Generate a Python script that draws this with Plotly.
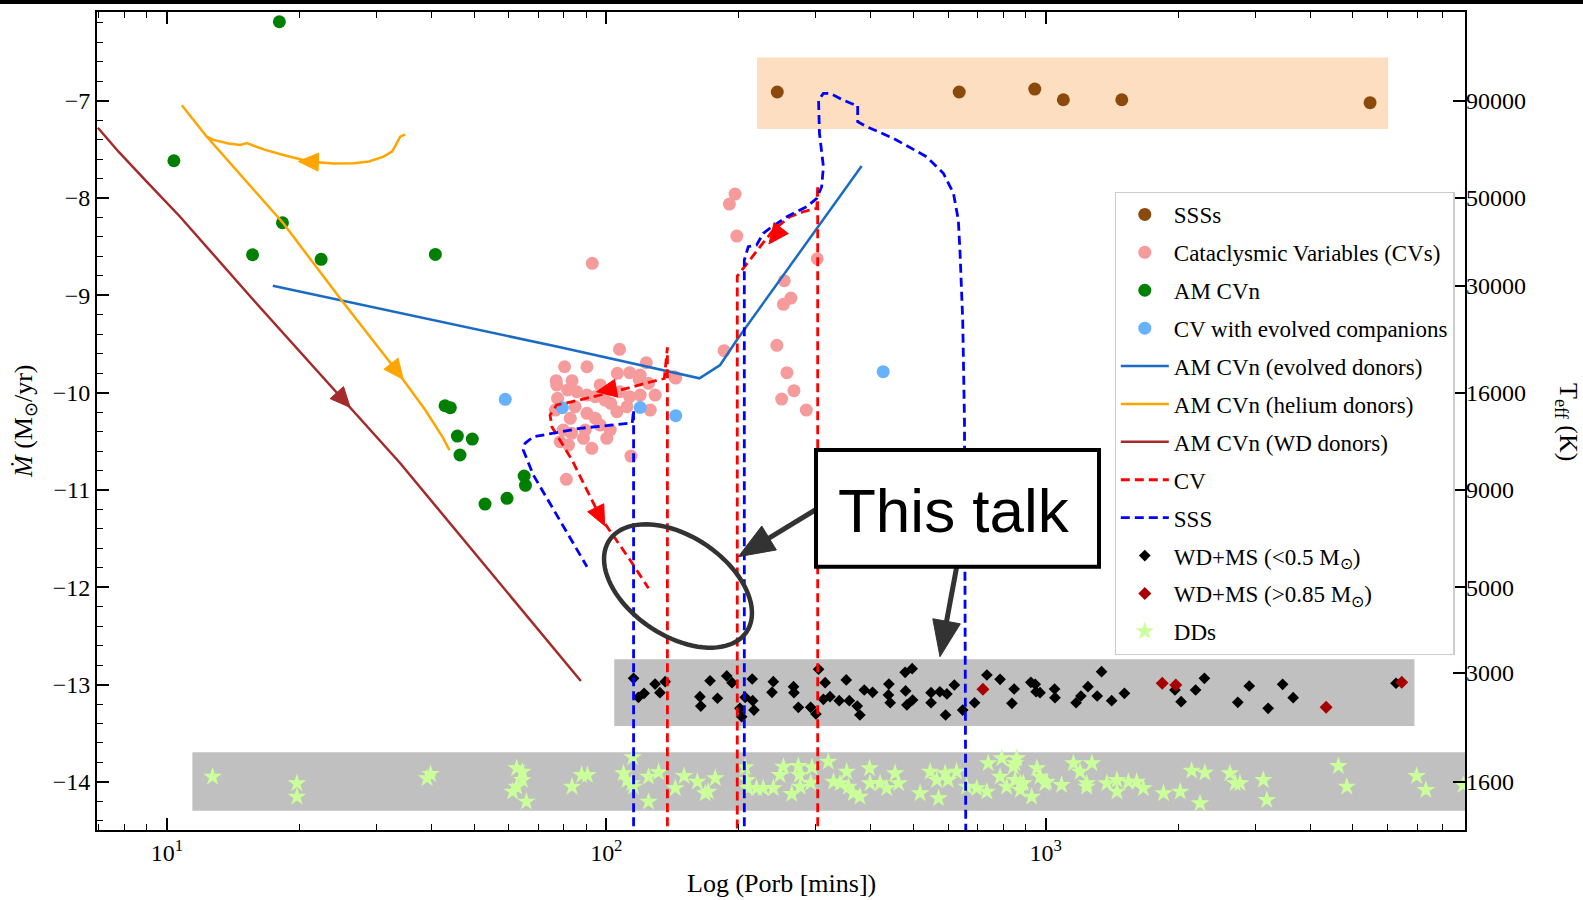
import numpy as np
import plotly.graph_objects as go

# ---------------- axis frame ----------------
X_LOG_RANGE = [0.841, 3.954]          # log10(P / min)
Y_RANGE = [-14.495, -6.088]           # log Mdot

# ---------------- data (log10 Porb [min], log Mdot [Msun/yr]) ----------------
sss_logp = [2.389, 2.803, 2.975, 3.040, 3.173, 3.738]
sss_mdot = [-6.91, -6.91, -6.88, -6.99, -6.99, -7.02]

cv_logp = [1.968, 2.293, 2.280, 2.297, 2.480, 2.405, 2.420, 2.403, 2.388, 2.268,
           2.411, 2.427, 2.399, 2.455, 2.030, 2.091, 2.155, 1.905, 1.956, 1.886,
           1.922, 2.025, 2.053, 2.075, 2.096, 1.889, 1.912, 1.933, 1.956, 1.975,
           2.031, 2.053, 2.100, 1.929, 1.956, 1.975, 2.010, 2.024, 2.047, 1.918,
           1.902, 1.921, 1.895, 1.914, 1.948, 1.967, 2.001, 2.056, 1.909, 1.887,
           1.986, 1.997, 2.077, 2.077, 1.986, 2.009, 1.884, 1.952, 2.111, 2.158]
cv_mdot = [-8.671, -7.959, -8.062, -8.391, -8.624, -8.850, -9.028, -9.092, -9.514, -9.569,
           -9.795, -9.980, -10.066, -10.179, -9.555, -9.693, -9.837, -9.734, -9.734, -9.877,
           -9.877, -9.802, -9.795, -9.870, -9.904, -10.058, -9.973, -9.991, -10.025, -10.042,
           -9.991, -10.042, -10.179, -10.145, -10.213, -10.264, -10.110, -10.196, -10.145, -10.264,
           -10.384, -10.418, -10.505, -10.538, -10.470, -10.572, -10.470, -10.652, -10.891, -9.921,
           -9.921, -10.076, -9.819, -10.025, -10.333, -10.384, -10.179, -10.384, -10.025, -9.850]

amcvn_logp = [1.256, 1.016, 1.263, 1.195, 1.351, 1.611, 1.633, 1.645, 1.661, 1.695,
              1.667, 1.813, 1.816, 1.724, 1.774]
amcvn_mdot = [-6.188, -7.617, -8.254, -8.583, -8.630, -8.580, -10.135, -10.155, -10.446, -10.477,
              -10.641, -10.857, -10.953, -11.145, -11.086]

evolved_logp = [1.770, 1.900, 2.077, 2.158, 2.630]
evolved_mdot = [-10.069, -10.155, -10.153, -10.237, -9.785]

wdms_lo_logp = [2.062, 2.073, 2.086, 2.111, 2.122, 2.134, 2.213, 2.215, 2.236, 2.253,
                2.274, 2.286, 2.304, 2.308, 2.316, 2.332, 2.333, 2.336, 2.380, 2.377,
                2.426, 2.427, 2.437, 2.465, 2.477, 2.483, 2.498, 2.494, 2.509, 2.530,
                2.546, 2.553, 2.571, 2.577, 2.587, 2.606, 2.643, 2.642, 2.646, 2.680,
                2.696, 2.681, 2.684, 2.697, 2.739, 2.739, 2.759, 2.775, 2.772, 2.792,
                2.811, 2.838, 2.866, 2.896, 2.928, 2.923, 2.966, 2.976, 2.987, 2.978,
                3.020, 3.021, 3.069, 3.080, 3.096, 3.117, 3.127, 3.150, 3.179, 3.294,
                3.308, 3.341, 3.361, 3.437, 3.463, 3.506, 3.539, 3.563, 3.797]
wdms_lo_mdot = [-12.936, -13.131, -13.090, -12.995, -13.084, -12.971, -13.125, -13.221, -12.961, -13.141,
                -12.912, -12.981, -13.244, -13.331, -13.131, -12.943, -13.166, -13.262, -12.971, -13.080,
                -13.022, -13.084, -13.234, -13.234, -13.303, -12.843, -12.981, -13.152, -13.125, -13.166,
                -12.953, -13.166, -13.221, -13.313, -13.056, -13.080, -12.995, -13.107, -13.187, -12.874,
                -12.837, -13.066, -13.210, -13.159, -13.084, -13.187, -13.074, -13.097, -13.313, -13.005,
                -13.262, -13.187, -12.902, -12.946, -13.046, -13.193, -12.977, -12.998, -13.084, -13.074,
                -13.046, -13.135, -13.187, -13.118, -13.022, -13.118, -12.868, -13.166, -13.090, -13.056,
                -13.176, -13.056, -12.936, -13.183, -13.015, -13.244, -12.998, -13.135, -12.987]

wdms_hi_logp = [2.857, 3.265, 3.296, 3.638, 3.810]
wdms_hi_mdot = [-13.049, -12.987, -13.005, -13.234, -12.977]

dd_logp = [1.104, 1.296, 1.296, 1.592, 1.600, 1.796, 1.809, 1.809, 1.796, 1.787,
           1.818, 1.922, 1.944, 1.957, 2.060, 2.039, 2.047, 2.058, 2.062, 2.096,
           2.119, 2.096, 2.157, 2.177, 2.207, 2.225, 2.232, 2.248, 2.316, 2.320,
           2.323, 2.342, 2.357, 2.380, 2.395, 2.403, 2.422, 2.437, 2.439, 2.441,
           2.468, 2.465, 2.505, 2.517, 2.532, 2.547, 2.551, 2.562, 2.577, 2.599,
           2.600, 2.623, 2.638, 2.657, 2.665, 2.714, 2.737, 2.752, 2.756, 2.771,
           2.778, 2.797, 2.820, 2.843, 2.866, 2.869, 2.900, 2.896, 2.911, 2.930,
           2.934, 2.942, 2.968, 2.980, 2.987, 2.998, 3.036, 3.063, 3.078, 3.093,
           3.105, 2.926, 2.930, 2.949, 2.942, 3.002,
           3.093, 3.139, 3.162, 3.162, 3.188, 3.207, 3.222, 3.268, 3.306, 3.332,
           3.362, 3.351, 3.419, 3.431, 3.442, 3.495, 3.503, 3.666, 3.685, 3.844, 3.865, 3.950]
dd_mdot = [-13.948, -14.015, -14.153, -13.964, -13.920, -13.861, -13.896, -13.982, -14.050, -14.101,
           -14.204, -14.050, -13.930, -13.930, -13.748, -13.913, -13.982, -14.015, -14.050, -13.948,
           -13.902, -14.204, -14.067, -13.940, -13.999, -14.118, -14.101, -13.964, -13.851, -13.982,
           -14.067, -14.067, -14.067, -14.067, -13.930, -13.845, -14.125, -13.837, -13.930, -14.050,
           -13.851, -14.009, -13.793, -13.999, -14.015, -13.896, -14.050, -14.118, -14.153, -13.861,
           -14.015, -14.015, -14.067, -13.913, -14.015, -14.118, -13.896, -13.982, -14.169, -13.913,
           -13.982, -13.896, -14.050, -14.067, -14.101, -13.810, -13.758, -13.948, -14.050, -13.810,
           -13.758, -14.015, -14.153, -13.861, -13.948, -14.015, -14.033, -13.810, -13.896, -14.015,
           -13.810, -13.845, -13.982, -14.015, -14.084, -13.999,
           -14.050, -14.015, -13.982, -14.101, -13.999, -13.999, -14.067, -14.118, -14.101, -13.886,
           -13.906, -14.221, -13.913, -14.015, -14.015, -13.982, -14.187, -13.837, -14.050, -13.940, -14.084, -14.033]

# evolutionary tracks
evol_track_logp = [1.241, 1.608, 1.713, 1.895, 2.212, 2.259, 2.297, 2.479, 2.581]
evol_track_mdot = [-8.901, -9.254, -9.356, -9.534, -9.853, -9.716, -9.459, -8.311, -7.671]

he_track_logp = [1.542, 1.531, 1.513, 1.493, 1.460, 1.425, 1.380, 1.326, 1.265, 1.220,
                 1.182, 1.167, 1.140, 1.106, 1.091, 1.034, 1.091, 1.264, 1.394, 1.524,
                 1.588, 1.626, 1.643]
he_track_mdot = [-7.345, -7.370, -7.520, -7.575, -7.625, -7.643, -7.645, -7.626, -7.557, -7.500,
                 -7.436, -7.454, -7.440, -7.402, -7.370, -7.047, -7.370, -8.254, -9.031, -9.783,
                 -10.179, -10.446, -10.590]

wd_track_logp = [0.843, 0.890, 0.954, 1.030, 1.197, 1.531, 1.942]
wd_track_mdot = [-7.277, -7.524, -7.832, -8.192, -9.048, -10.726, -12.964]

cv_trackA_logp = [2.481, 2.481, 2.479, 2.448, 2.418, 2.380, 2.350, 2.308, 2.298, 2.298]
cv_trackA_mdot = [-14.6, -7.866, -8.106, -8.141, -8.192, -8.329, -8.500, -8.740, -8.802, -14.6]
cv_trackB_logp = [2.139, 2.139, 2.132, 2.015, 1.918, 1.887, 1.872, 1.876, 1.922, 1.986, 2.054, 2.096]
cv_trackB_mdot = [-14.6, -9.534, -9.853, -9.994, -10.097, -10.127, -10.230, -10.350, -10.693, -11.275, -11.720, -12.011]

sss_track1_logp = [2.062, 2.062, 2.059, 1.940, 1.834, 1.815, 1.811, 1.834, 1.956]
sss_track1_mdot = [-14.6, -10.179, -10.312, -10.367, -10.453, -10.521, -10.590, -10.847, -11.789]
sss_track2_logp = [2.314, 2.314, 2.323, 2.342, 2.357, 2.377, 2.411, 2.456, 2.479, 2.490,
                   2.494, 2.485, 2.483, 2.494, 2.509, 2.539, 2.566, 2.572, 2.572, 2.593,
                   2.653, 2.729, 2.767, 2.790, 2.801, 2.805, 2.811, 2.815, 2.818]
sss_track2_mdot = [-14.6, -8.637, -8.500, -8.483, -8.363, -8.295, -8.192, -8.089, -8.003, -7.884,
                   -7.678, -7.335, -6.993, -6.924, -6.924, -6.993, -7.044, -7.044, -7.216, -7.267,
                   -7.386, -7.576, -7.746, -7.952, -8.226, -8.568, -9.254, -10.282, -14.6]

# direction arrows on tracks: (colour, [previous point, arrow point])
arrows = [
    ("#A52A2A", [1.197, 1.402], [-9.048, -10.076]),
    ("#FFA500", [1.425, 1.322], [-7.643, -7.627]),
    ("#FFA500", [1.394, 1.524], [-9.031, -9.783]),
    ("#FF0000", [2.418, 2.384], [-8.192, -8.390]),
    ("#FF0000", [2.077, 2.000], [-9.911, -9.973]),
    ("#FF0000", [1.922, 1.986], [-10.693, -11.275]),
]

# shaded regions: (logP0, logP1, Mdot0, Mdot1, colour)
bands = [
    (2.343, 3.779, -6.556, -7.290, "#FDDEC0"),
    (2.018, 3.839, -12.741, -13.426, "#C0C0C0"),
    (1.058, 3.954, -13.697, -14.297, "#C0C0C0"),
]

teff_pos = [-7, -8, -8.9, -10, -11, -12, -12.88, -14]
teff_labels = ["90000", "50000", "30000", "16000", "9000", "5000", "3000", "1600"]

x_major = [10, 100, 1000]
x_major_text = ["10<sup>1</sup>", "10<sup>2</sup>", "10<sup>3</sup>"]
x_minor = [m * 10 ** e for e in range(0, 4) for m in range(2, 10)]

# ---------------- helpers ----------------
W, H = 1583, 900
L, R, T, B = 97, 1465, 12, 830
XSCALE = (R - L) / (X_LOG_RANGE[1] - X_LOG_RANGE[0])   # px per decade
YSCALE = (B - T) / (Y_RANGE[1] - Y_RANGE[0])           # px per dex in Mdot


def P(lp):
    return [None if v is None else 10 ** v for v in lp]


def lx(lp):
    return (lp - X_LOG_RANGE[0]) / (X_LOG_RANGE[1] - X_LOG_RANGE[0])


def ly(md):
    return (md - Y_RANGE[0]) / (Y_RANGE[1] - Y_RANGE[0])


def px(x):
    return (x - L) / (R - L)


def py(y):
    return (B - y) / (B - T)


SERIF = "Liberation Serif, Times New Roman, serif"
fig = go.Figure()

# ---------------- points ----------------
def add_points(name, lp, md, color, symbol, size, rank):
    fig.add_trace(go.Scatter(
        x=P(lp), y=md, mode="markers", name=name, legendgroup=name, legendrank=rank,
        marker=dict(color=color, symbol=symbol, size=size, line=dict(width=0)),
        hoverinfo="skip"))


add_points("DDs", dd_logp, dd_mdot, "#CBFF9A", "star", 14, 12)
add_points("WD+MS (&lt;0.5 M<sub>⊙</sub>)", wdms_lo_logp, wdms_lo_mdot, "black", "diamond", 9, 10)
add_points("WD+MS (&gt;0.85 M<sub>⊙</sub>)", wdms_hi_logp, wdms_hi_mdot, "#A80000", "diamond", 10, 11)
add_points("SSSs", sss_logp, sss_mdot, "#8B4A0C", "circle", 13, 1)
add_points("Cataclysmic Variables (CVs)", cv_logp, cv_mdot, "#F59B9B", "circle", 13, 2)
add_points("AM CVn", amcvn_logp, amcvn_mdot, "#008000", "circle", 13, 3)
add_points("CV with evolved companions", evolved_logp, evolved_mdot, "#66B2FF", "circle", 13, 4)

# ---------------- tracks ----------------
def add_line(name, lp, md, color, rank, dash="solid", width=2.5):
    fig.add_trace(go.Scatter(
        x=P(lp), y=md, mode="lines", name=name, legendgroup=name, legendrank=rank,
        line=dict(color=color, width=width, dash=dash), connectgaps=False, hoverinfo="skip"))


add_line("AM CVn (evolved donors)", evol_track_logp, evol_track_mdot, "#1A6BC4", 5)
add_line("AM CVn (helium donors)", he_track_logp, he_track_mdot, "#FFA500", 6)
add_line("AM CVn (WD donors)", wd_track_logp, wd_track_mdot, "#A52A2A", 7)
add_line("CV", cv_trackA_logp + [None] + cv_trackB_logp,
         cv_trackA_mdot + [None] + cv_trackB_mdot, "#FF0000", 8, dash="9px,5px", width=2.8)
add_line("SSS", sss_track1_logp + [None] + sss_track2_logp,
         sss_track1_mdot + [None] + sss_track2_mdot, "#0000FF", 9, dash="9px,5px", width=2.8)

# dummy trace to activate the right-hand Teff axis
fig.add_trace(go.Scatter(x=[100], y=[-10], yaxis="y2", mode="markers",
                         marker=dict(opacity=0), showlegend=False, hoverinfo="skip"))

# ---------------- shapes ----------------
shapes = []
for x0, x1, y0, y1, c in bands:
    shapes.append(dict(type="rect", xref="paper", yref="y", x0=lx(x0), x1=min(lx(x1), 1.0),
                       y0=y0, y1=y1, fillcolor=c, line=dict(width=0), layer="below"))

# arrow heads on the evolutionary tracks (filled triangles centred on the point)
for color, lp, md in arrows:
    x_prev, y_prev = L + lx(lp[0]) * (R - L), B - ly(md[0]) * (B - T)
    x_arr, y_arr = L + lx(lp[1]) * (R - L), B - ly(md[1]) * (B - T)
    d = np.array([x_arr - x_prev, y_arr - y_prev]); d = d / np.linalg.norm(d)
    n = np.array([-d[1], d[0]])
    hl, hw = 20, 9
    tip = (x_arr + 0.5 * hl * d[0], y_arr + 0.5 * hl * d[1])
    bc = (x_arr - 0.5 * hl * d[0], y_arr - 0.5 * hl * d[1])
    c1 = (bc[0] + hw * n[0], bc[1] + hw * n[1]); c2 = (bc[0] - hw * n[0], bc[1] - hw * n[1])
    tri = (f"M {px(tip[0]):.5f},{py(tip[1]):.5f} L {px(c1[0]):.5f},{py(c1[1]):.5f} "
           f"L {px(c2[0]):.5f},{py(c2[1]):.5f} Z")
    shapes.append(dict(type="path", xref="paper", yref="paper", path=tri,
                       fillcolor=color, line=dict(color=color, width=1), layer="above"))

# top black bar of the slide
shapes.append(dict(type="rect", xref="paper", yref="paper", x0=px(0), x1=px(W),
                   y0=py(4), y1=py(-2), fillcolor="black", line=dict(width=0), layer="above"))

# ellipse ("this talk" region)
cx, cy, ea, eb, th = 678, 586, 82.5, 49.7, np.radians(33.7)
tt = np.linspace(0, 2 * np.pi, 90)
ex = cx + ea * np.cos(tt) * np.cos(th) - eb * np.sin(tt) * np.sin(th)
ey = cy + ea * np.cos(tt) * np.sin(th) + eb * np.sin(tt) * np.cos(th)
path = "M " + " L ".join(f"{px(a):.5f},{py(b):.5f}" for a, b in zip(ex, ey)) + " Z"
shapes.append(dict(type="path", xref="paper", yref="paper", path=path,
                   line=dict(color="#333333", width=4.5), layer="above"))

# callout arrows
for (sx, sy), (tx, ty) in [((816.7, 509), (738.3, 556.7)), ((956.7, 566.7), (940, 656.7))]:
    d = np.array([tx - sx, ty - sy]); d = d / np.linalg.norm(d)
    n = np.array([-d[1], d[0]])
    hl, hw = 36, 14
    bx, by = tx - hl * d[0], ty - hl * d[1]
    shapes.append(dict(type="line", xref="paper", yref="paper", x0=px(sx), y0=py(sy),
                       x1=px(bx + 2 * d[0]), y1=py(by + 2 * d[1]),
                       line=dict(color="#333333", width=5), layer="above"))
    c1 = (bx + hw * n[0], by + hw * n[1]); c2 = (bx - hw * n[0], by - hw * n[1])
    tri = (f"M {px(tx):.5f},{py(ty):.5f} L {px(c1[0]):.5f},{py(c1[1]):.5f} "
           f"L {px(c2[0]):.5f},{py(c2[1]):.5f} Z")
    shapes.append(dict(type="path", xref="paper", yref="paper", path=tri,
                       fillcolor="#333333", line=dict(color="#333333", width=1), layer="above"))

# text box
shapes.append(dict(type="rect", xref="paper", yref="paper", x0=px(816), x1=px(1099),
                   y0=py(566.7), y1=py(450), fillcolor="white",
                   line=dict(color="black", width=4), layer="above"))

annotations = [
    dict(text="This talk", xref="paper", yref="paper", x=px(954), y=py(510),
         showarrow=False, font=dict(family="Liberation Sans, Arial, sans-serif", size=62, color="black"),
         xanchor="center", yanchor="middle"),
    dict(text="Log (Porb [mins])", xref="paper", yref="paper", x=px(781), y=py(883),
         showarrow=False, font=dict(family=SERIF, size=26, color="black"),
         xanchor="center", yanchor="middle"),
    dict(text="<i>Ṁ</i> (M<sub>⊙</sub>/yr)", xref="paper", yref="paper", x=px(25), y=py(421),
         showarrow=False, textangle=-90, font=dict(family=SERIF, size=26, color="black"),
         xanchor="center", yanchor="middle"),
    dict(text="T<sub>eff</sub> (K)", xref="paper", yref="paper", x=px(1567), y=py(422),
         showarrow=False, textangle=90, font=dict(family=SERIF, size=26, color="black"),
         xanchor="center", yanchor="middle"),
]

tickfont = dict(family=SERIF, size=24, color="black")
fig.update_layout(
    template="none",
    width=W, height=H,
    margin=dict(l=L, r=W - R, t=T, b=H - B, pad=0),
    paper_bgcolor="white", plot_bgcolor="white",
    font=dict(family=SERIF, size=22, color="black"),
    showlegend=True,
    xaxis=dict(type="log", range=X_LOG_RANGE, tickvals=x_major, ticktext=x_major_text,
               ticks="inside", ticklen=12, tickwidth=1.6, tickcolor="black",
               showline=True, linecolor="black", linewidth=2, mirror="ticks",
               showgrid=False, zeroline=False, tickfont=tickfont, automargin=False,
               minor=dict(tickvals=x_minor, ticks="inside", ticklen=6, tickwidth=1.4,
                          tickcolor="black", showgrid=False)),
    yaxis=dict(range=Y_RANGE, tick0=-14, dtick=1, ticks="inside", ticklen=12, tickwidth=1.6,
               tickcolor="black", showline=True, linecolor="black", linewidth=2, mirror=True,
               showgrid=False, zeroline=False, tickfont=tickfont, automargin=False,
               minor=dict(dtick=0.2, tick0=-14, ticks="inside", ticklen=6, tickwidth=1.4,
                          tickcolor="black", showgrid=False)),
    yaxis2=dict(overlaying="y", side="right", range=Y_RANGE, tickvals=teff_pos, ticktext=teff_labels,
                ticks="inside", ticklen=12, tickwidth=1.6, tickcolor="black", showline=False,
                showgrid=False, zeroline=False, tickfont=tickfont, automargin=False),
    legend=dict(x=px(1114.6), y=py(191.8), xanchor="left", yanchor="top",
                bgcolor="white", bordercolor="#CCCCCC", borderwidth=1.2,
                font=dict(family=SERIF, size=23, color="black"),
                traceorder="grouped", tracegroupgap=5, itemwidth=48),
    shapes=shapes,
    annotations=annotations,
)

fig.write_html("out.html")
